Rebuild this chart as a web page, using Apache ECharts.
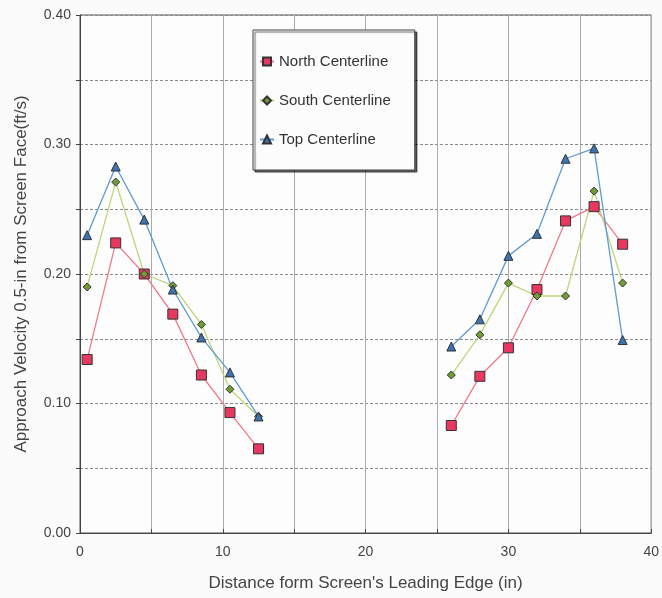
<!DOCTYPE html>
<html>
<head>
<meta charset="utf-8">
<script src="https://cdn.jsdelivr.net/npm/echarts@6/dist/echarts.min.js"></script>
<style>
  html, body { margin: 0; padding: 0; background: #fbfbfb; }
  #main { width: 662px; height: 598px; }
</style>
</head>
<body>
<div id="main"></div>
<script>
// x positions (in)
var xLeft = [0.5, 2.5, 4.5, 6.5, 8.5, 10.5, 12.5];
var xRight = [26, 28, 30, 32, 34, 36, 38];

// velocities (ft/s)
var northLeft = [0.134, 0.224, 0.200, 0.169, 0.122, 0.093, 0.065];
var northRight = [0.083, 0.121, 0.143, 0.188, 0.241, 0.252, 0.223];
var southLeft = [0.190, 0.271, 0.200, 0.191, 0.161, 0.111, 0.090];
var southRight = [0.122, 0.153, 0.193, 0.183, 0.183, 0.264, 0.193];
var topLeft = [0.230, 0.283, 0.242, 0.188, 0.151, 0.124, 0.090];
var topRight = [0.144, 0.165, 0.214, 0.231, 0.289, 0.297, 0.149];

function pairs(xs, ys) {
    var out = [];
    for (var i = 0; i < xs.length; i++) out.push([xs[i], ys[i]]);
    return out;
}
// two groups with a gap between them
function joined(x1, y1, x2, y2) {
    return pairs(x1, y1).concat([[null, null]]).concat(pairs(x2, y2));
}

var myChart = echarts.init(document.getElementById('main'));

var font = 'Liberation Sans, Arial, sans-serif';

function mkSeries(name, data, symbol, size, fill, line) {
    return {
        name: name,
        type: 'line',
        data: data,
        symbol: symbol,
        symbolSize: size,
        connectNulls: false,
        itemStyle: { color: fill, borderColor: '#333', borderWidth: 1 },
        lineStyle: { color: line, width: 1.3 },
        emphasis: { disabled: true }
    };
}

var option = {
    backgroundColor: '#fbfbfb',
    animation: false,
    grid: {
        left: 80,
        right: 7,
        top: 15,
        bottom: 65,
        show: true,
        borderColor: '#555',
        borderWidth: 1,
        backgroundColor: '#fdfdfd'
    },
    legend: {
        left: 253,
        top: 30,
        orient: 'vertical',
        itemGap: 24,
        itemWidth: 14,
        itemHeight: 10,
        padding: [24, 24, 23, 6],
        backgroundColor: '#fcfcfc',
        borderColor: '#444',
        borderWidth: 1,
        shadowColor: 'rgba(0,0,0,0.6)',
        shadowOffsetX: 2,
        shadowOffsetY: 2,
        shadowBlur: 1,
        textStyle: { fontFamily: font, fontSize: 15, color: '#333' },
        data: ['North Centerline', 'South Centerline', 'Top Centerline']
    },
    xAxis: {
        type: 'value',
        min: 0,
        max: 40,
        interval: 5,
        name: "Distance form Screen's Leading Edge (in)",
        nameLocation: 'middle',
        nameGap: 42,
        nameTextStyle: { fontFamily: font, fontSize: 17, color: '#444' },
        axisLine: { show: true, onZero: false, lineStyle: { color: '#444' } },
        axisTick: { show: true, length: 4, inside: true, lineStyle: { color: '#444' } },
        axisLabel: {
            fontFamily: font, fontSize: 14, color: '#444', margin: 12,
            formatter: function (v) { return v % 10 === 0 ? String(v) : ''; }
        },
        splitLine: { show: true, lineStyle: { color: '#aaa', width: 1 } }
    },
    yAxis: {
        type: 'value',
        min: 0,
        max: 0.4,
        interval: 0.05,
        name: 'Approach Velocity 0.5-in from Screen Face(ft/s)',
        nameLocation: 'middle',
        nameGap: 50,
        nameTextStyle: { fontFamily: font, fontSize: 17, color: '#444' },
        axisLine: { show: true, onZero: false, lineStyle: { color: '#444' } },
        axisTick: { show: true, length: 4, inside: false, lineStyle: { color: '#444' } },
        axisLabel: {
            fontFamily: font, fontSize: 14, color: '#444', margin: 9,
            formatter: function (v) {
                var k = Math.round(v * 100);
                return k % 10 === 0 ? v.toFixed(2) : '';
            }
        },
        splitLine: { show: true, lineStyle: { color: '#888', type: [3, 2], width: 1 } }
    },
    series: [
        mkSeries('North Centerline', joined(xLeft, northLeft, xRight, northRight), 'rect', 10, '#e8385f', '#f07a8a'),
        mkSeries('South Centerline', joined(xLeft, southLeft, xRight, southRight), 'diamond', 8, '#6f9d34', '#bcd77a'),
        mkSeries('Top Centerline', joined(xLeft, topLeft, xRight, topRight), 'triangle', 9, '#3f73b0', '#5f9ad3')
    ]
};

myChart.setOption(option);
</script>
</body>
</html>
